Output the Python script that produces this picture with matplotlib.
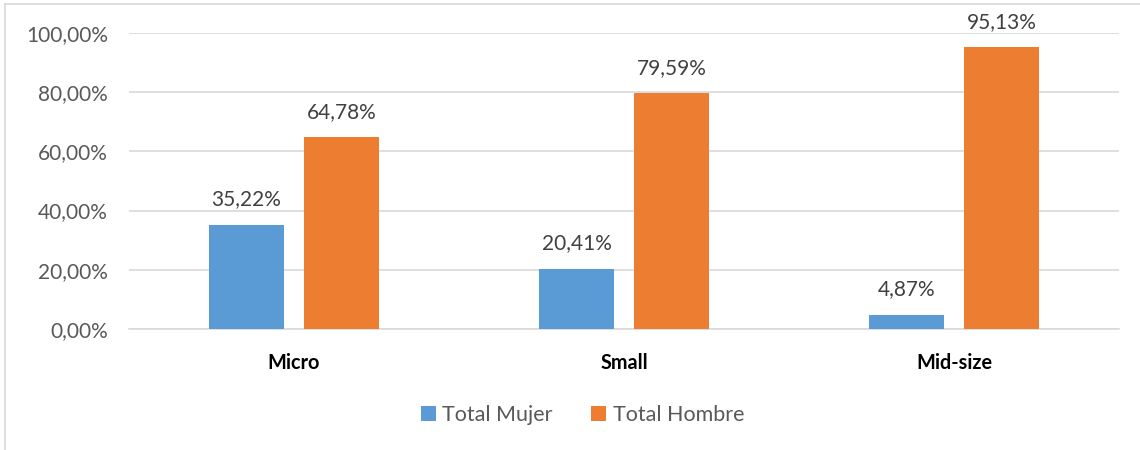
import matplotlib

matplotlib.use("Agg")
import matplotlib.pyplot as plt
from matplotlib.lines import Line2D
import numpy as np

categories = ["Micro", "Small", "Mid-size"]
series_names = ["Total Mujer", "Total Hombre"]
mujer = [35.22, 20.41, 4.87]
hombre = [64.78, 79.59, 95.13]
y_ticks = [0, 20, 40, 60, 80, 100]

BLUE = "#5B9BD5"
ORANGE = "#ED7D31"
GRID = "#D9D9D9"
TEXT = "#595959"


def pct(v):
    return f"{v:.2f}%".replace(".", ",")


plt.rcParams["font.family"] = ["Lato", "DejaVu Sans"]

fig = plt.figure(figsize=(11.4, 4.5), dpi=100)
ax = fig.add_axes([0.113, 0.269, 0.869, 0.658])

x = np.arange(len(categories))
w = 0.227
off = 0.144
b1 = ax.bar(x - off, mujer, w, color=BLUE, label=series_names[0], zorder=3)
b2 = ax.bar(x + off, hombre, w, color=ORANGE, label=series_names[1], zorder=3)

for bars, vals in ((b1, mujer), (b2, hombre)):
    for rect, v in zip(bars, vals):
        ax.annotate(pct(v), (rect.get_x() + rect.get_width() / 2, v),
                    xytext=(0, 11), textcoords="offset points",
                    ha="center", va="bottom", fontsize=15, color="#404040")

ax.set_xlim(-0.5, len(categories) - 0.5)
ax.set_ylim(0, 100)
ax.set_yticks(y_ticks)
ax.set_yticklabels([pct(v) for v in y_ticks], fontsize=15, color=TEXT)
ax.set_xticks(x)
ax.set_xticklabels(categories, fontsize=14.3, fontweight="bold", color="black")
ax.tick_params(axis="both", length=0)
ax.tick_params(axis="y", pad=15)
ax.tick_params(axis="x", pad=17)
ax.grid(axis="y", color=GRID, linewidth=1.2, zorder=0)
for s in ("top", "right", "left"):
    ax.spines[s].set_visible(False)
ax.spines["bottom"].set_color(GRID)
ax.spines["bottom"].set_linewidth(1.2)

leg = ax.legend(loc="upper center", bbox_to_anchor=(0.458, -0.19), ncol=2,
                frameon=False, fontsize=15.5, handlelength=0.7,
                handleheight=0.7, columnspacing=1.8, handletextpad=0.3)
for t in leg.get_texts():
    t.set_color(TEXT)

# chart area border (top and left visible)
fig.add_artist(Line2D([5 / 1140, 1], [1 - 4 / 450, 1 - 4 / 450],
                      transform=fig.transFigure, color=GRID, linewidth=1.2))
fig.add_artist(Line2D([5 / 1140, 5 / 1140], [0, 1 - 4 / 450],
                      transform=fig.transFigure, color=GRID, linewidth=1.2))

fig.savefig("out.png", dpi=100)
